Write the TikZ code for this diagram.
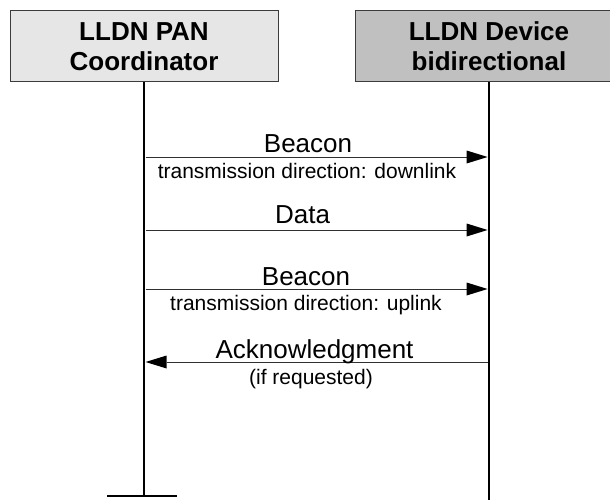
\documentclass[tikz,border=0pt]{standalone}
\usepackage{fontspec}
\setmainfont{Liberation Sans}
\usetikzlibrary{arrows.meta}

\definecolor{boxline}{HTML}{3C3C3C}
\definecolor{coordfill}{HTML}{E6E6E6}
\definecolor{devfill}{HTML}{C0C0C0}
\definecolor{msgline}{HTML}{303030}

\tikzset{
  entity/.style={draw=boxline, line width=1pt, minimum width=268pt, minimum height=71pt,
    inner sep=0pt, align=center, font=\fontsize{26}{30}\selectfont\bfseries},
  lifeline/.style={line width=2.7pt, black},
  msg/.style={draw=msgline, line width=0.9pt,
    -{Triangle[length=21pt, width=13pt, fill=black, line width=0pt]}},
  msglabel/.style={anchor=base, inner sep=0pt, font=\fontsize{26}{30}\selectfont},
  msgnote/.style={anchor=base, inner sep=0pt, font=\fontsize{21}{25}\selectfont},
}

\begin{document}
\begin{tikzpicture}[x=1pt, y=-1pt]
  \path[use as bounding box] (0,0) rectangle (610,500);
  \clip (0,0) rectangle (610,500);

  % participants
  \node[entity, fill=coordfill] (coord) at (144,46.5) {LLDN PAN\\Coordinator};
  \node[entity, fill=devfill] (dev) at (489,46.5) {LLDN Device\\bidirectional};

  % lifeline ends
  \coordinate (coordend) at (144,496);
  \coordinate (devend) at (489,505);
  \coordinate (tickL) at (107,496);
  \coordinate (tickR) at (177,496);

  \draw[lifeline] (coord.south) -- (coordend);
  \draw[lifeline] (dev.south) -- (devend);
  \draw[line width=1.3pt, black] (tickL) -- (tickR);

  % message anchor points on the lifelines
  \coordinate (c1) at (145.6,157);  \coordinate (d1) at (487.6,157);
  \coordinate (c2) at (145.6,230);  \coordinate (d2) at (487.6,230);
  \coordinate (c3) at (145.6,289);  \coordinate (d3) at (487.6,289);
  \coordinate (c4) at (145.6,362);  \coordinate (d4) at (487.6,362);

  % messages
  \draw[msg] (c1) -- (d1);
  \node[msglabel] (beacon1) at (308,152) {Beacon};
  \node[msgnote] (note1) at (307,178) {transmission direction: downlink};

  \draw[msg] (c2) -- (d2);
  \node[msglabel] (data) at (302.5,223) {Data};

  \draw[msg] (c3) -- (d3);
  \node[msglabel] (beacon2) at (306,285.5) {Beacon};
  \node[msgnote] (note2) at (306,310) {transmission direction: uplink};

  \draw[msg] (d4) -- (c4);
  \node[msglabel] (ack) at (314.5,358) {Acknowledgment};
  \node[msgnote] (note3) at (311,384) {(if requested)};
\end{tikzpicture}
\end{document}
